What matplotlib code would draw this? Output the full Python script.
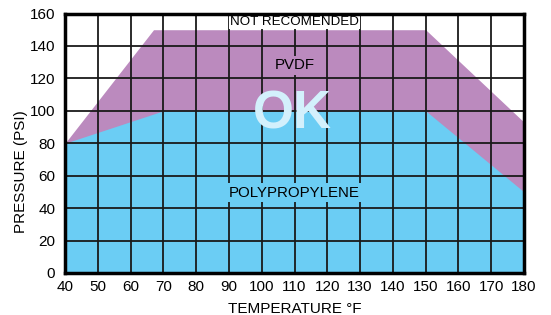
import numpy as np
import matplotlib
matplotlib.use("Agg")
import matplotlib.pyplot as plt

plt.rcParams['font.family'] = ['Liberation Sans', 'DejaVu Sans']

# PVDF envelope (temperature F, pressure psi)
pvdf_t = [40, 67, 150, 180]
pvdf_p = [80, 150, 150, 93]
# polypropylene envelope
pp_t = [40, 70, 150, 180]
pp_p = [80, 100, 100, 50]

xticks = list(range(40, 181, 10))
yticks = list(range(0, 161, 20))

purple = '#bb8abe'
cyan = '#6bcdf4'

fig = plt.figure(figsize=(5.51, 3.15), dpi=100)
ax = fig.add_axes([65/551, 42/315, 459/551, 259.5/315])

ax.fill_between(pvdf_t, 0, pvdf_p, color=purple, lw=0, zorder=1)
ax.fill_between(pp_t, 0, pp_p, color=cyan, lw=0, zorder=1.5)

ax.set_xlim(40, 180)
ax.set_ylim(0, 160)
ax.set_xticks(xticks)
ax.set_yticks(yticks)
ax.grid(True, color='#1a1a1a', lw=1.3, zorder=2)
ax.set_axisbelow(False)
ax.tick_params(axis='x', length=0, labelsize=11, pad=5)
ax.tick_params(axis='y', length=0, labelsize=11, pad=7)
for s in ax.spines.values():
    s.set_linewidth(2.5)
    s.set_zorder(5)

ax.text(109.4, 98, 'OK', fontsize=38, fontweight='bold', color='#d3f0fc',
        ha='center', va='center', zorder=3)
ax.text(110, 155, 'NOT RECOMENDED', fontsize=9.6, ha='center', va='center',
        zorder=4, bbox=dict(boxstyle='square,pad=0.1', fc='white', ec='none'))
ax.text(110, 128, 'PVDF', fontsize=10.8, ha='center', va='center',
        zorder=4, bbox=dict(boxstyle='square,pad=0.15', fc=purple, ec='none'))
ax.text(110, 49.5, 'POLYPROPYLENE', fontsize=10.8, ha='center', va='center',
        zorder=4, bbox=dict(boxstyle='square,pad=0.15', fc=cyan, ec='none'))

ax.set_xlabel('TEMPERATURE °F', fontsize=11, labelpad=6)
ax.set_ylabel('PRESSURE (PSI)', fontsize=11)
ax.yaxis.set_label_coords(-37/459, 0.39)

fig.savefig('out.png', dpi=100)
